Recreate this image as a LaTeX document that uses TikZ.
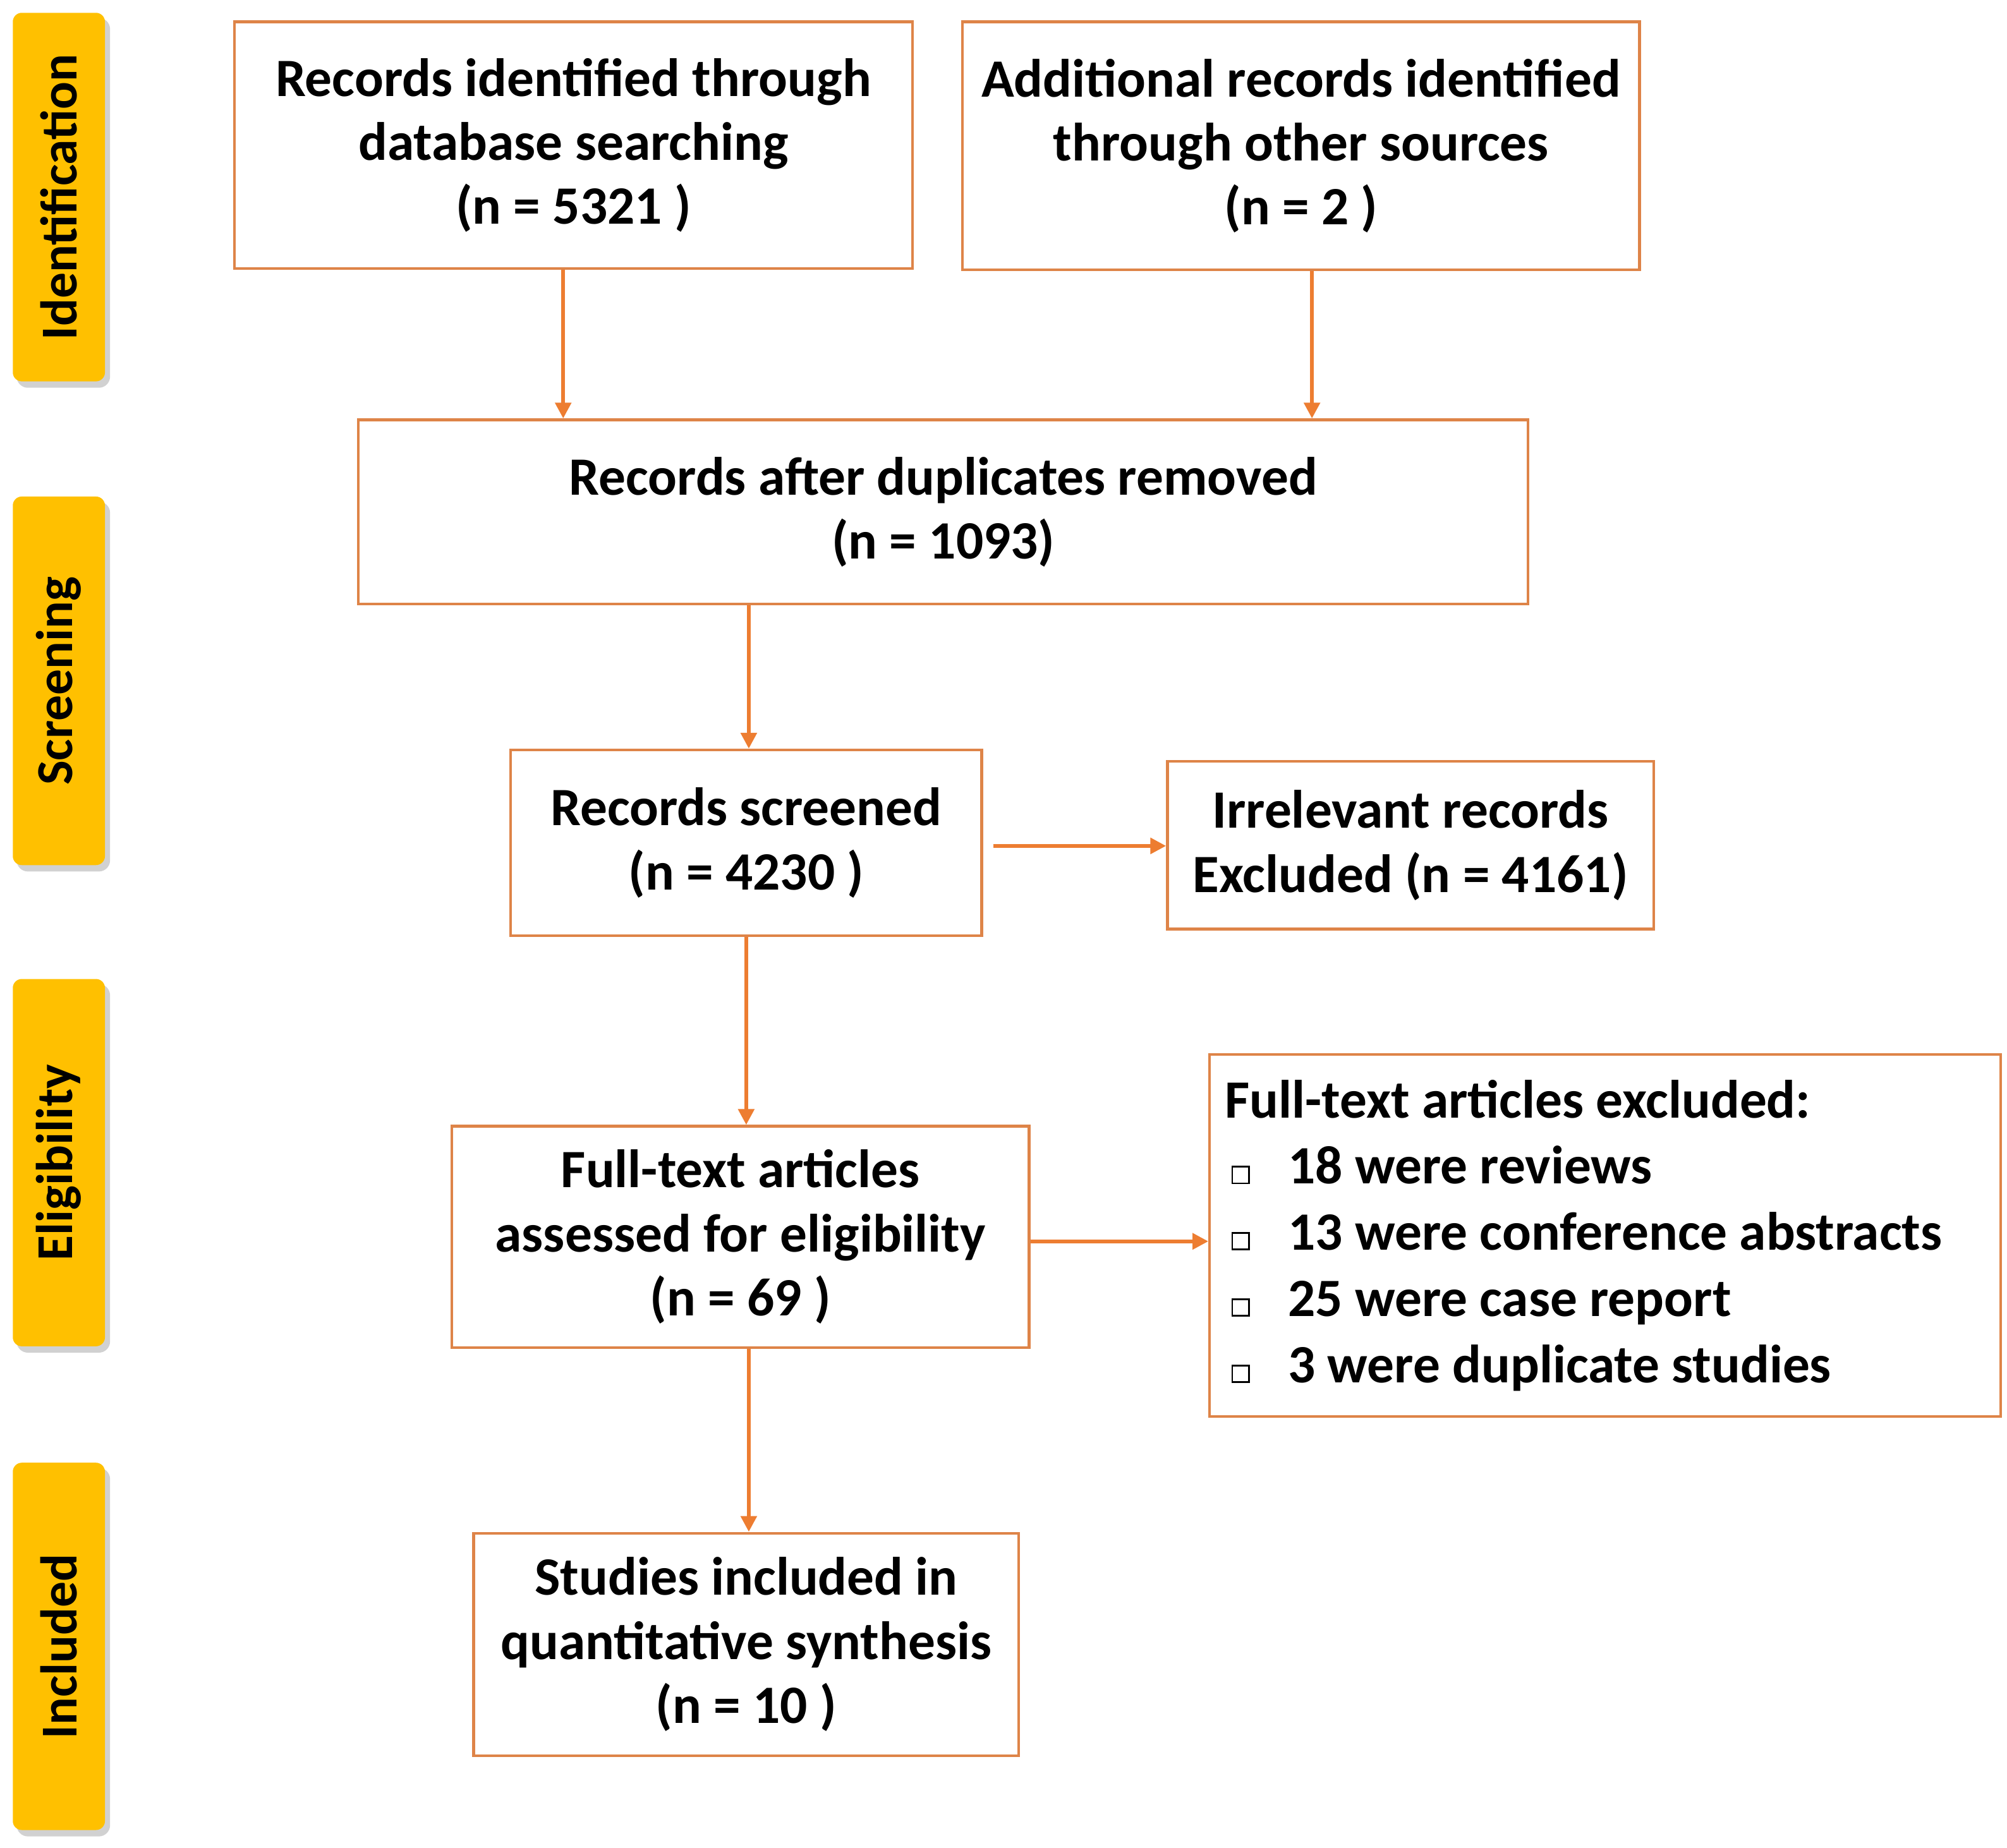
\documentclass[tikz,border=0pt]{standalone}
\usepackage{fontspec}
\setmainfont{Carlito}
\usetikzlibrary{arrows.meta}
\definecolor{org}{RGB}{237,125,49}
\definecolor{bord}{RGB}{222,132,72}
\definecolor{yel}{RGB}{255,192,0}
\newcommand\bxq{\tikz[x=1cm,y=1cm]\draw[line width=0.7pt] (0,0) rectangle (0.26cm,0.26cm);}
\begin{document}
\begin{tikzpicture}[x=0.02cm,y=-0.02cm,
  box/.style={draw=bord,line width=1.2pt,align=center,font=\fontsize{24}{28.5}\selectfont\bfseries,inner sep=0pt},
  arr/.style={draw=org,line width=1.6pt,-{Triangle[length=7pt,width=7pt]}},
  side/.style={fill=yel,rounded corners=4pt,minimum height=1.44cm,inner sep=0pt,font=\fontsize{23}{25}\selectfont\bfseries}]
\useasboundingbox (0,0) rectangle (1568,1444);
% side labels
\foreach \n/\t/\a/\b in {sid/Identification/10/298, sscr/Screening/388/676, sel/Eligibility/765/1052, sinc/Included/1143/1430}{
  \fill[black!18,rounded corners=5pt] (13,\a+4) rectangle (86,\b+5);
  \node[side,minimum width={(\b-\a)*0.02cm},rotate=90] (\n) at (46,{(\a+\b)/2}) {\t};
}
\node[box,minimum width=10.6cm,minimum height=3.86cm] (a) at (448,113.5) {Records identified through\\database searching\\(n = 5321 )};
\node[box,minimum width=10.58cm,minimum height=3.88cm] (b) at (1016.5,114) {Additional records identified\\through other sources\\(n = 2 )};
\node[box,minimum width=18.28cm,minimum height=2.88cm] (c) at (737,400) {Records after duplicates removed\\(n = 1093)};
\node[box,minimum width=7.36cm,minimum height=2.9cm] (d) at (583,658.5) {Records screened\\(n = 4230 )};
\node[box,minimum width=7.6cm,minimum height=2.62cm] (e) at (1102,660.5) {Irrelevant records\\Excluded (n = 4161)};
\node[box,minimum width=9.02cm,minimum height=3.46cm] (f) at (578.5,966.5) {Full-text articles\\assessed for eligibility\\(n = 69 )};
\node[box,text width=11.88cm,align=flush left,inner xsep=0.24cm,minimum height=5.66cm,font=\fontsize{24}{29.5}\selectfont\bfseries] (g) at (1254,965.5) {Full-text articles excluded:\\
\hspace{0.1cm}\bxq\hspace{0.6cm}18 were reviews\\
\hspace{0.1cm}\bxq\hspace{0.6cm}13 were conference abstracts\\
\hspace{0.1cm}\bxq\hspace{0.6cm}25 were case report\\
\hspace{0.1cm}\bxq\hspace{0.6cm}3 were duplicate studies};
\node[box,minimum width=8.52cm,minimum height=3.48cm] (h) at (583,1285) {Studies included in\\quantitative synthesis\\(n = 10 )};
\draw[arr] (a.south -| 440,0) -- (c.north -| 440,0);
\draw[arr] (b.south -| 1025,0) -- (c.north -| 1025,0);
\draw[arr] (c.south -| 585,0) -- (d.north -| 585,0);
\draw[arr] ([xshift=0.16cm]d.east |- 0,661) -- (e.west |- 0,661);
\draw[arr] (d.south -| 583,0) -- (f.north -| 583,0);
\draw[arr] (f.east |- 0,970) -- (g.west |- 0,970);
\draw[arr] (f.south -| 585,0) -- (h.north -| 585,0);
\end{tikzpicture}
\end{document}
